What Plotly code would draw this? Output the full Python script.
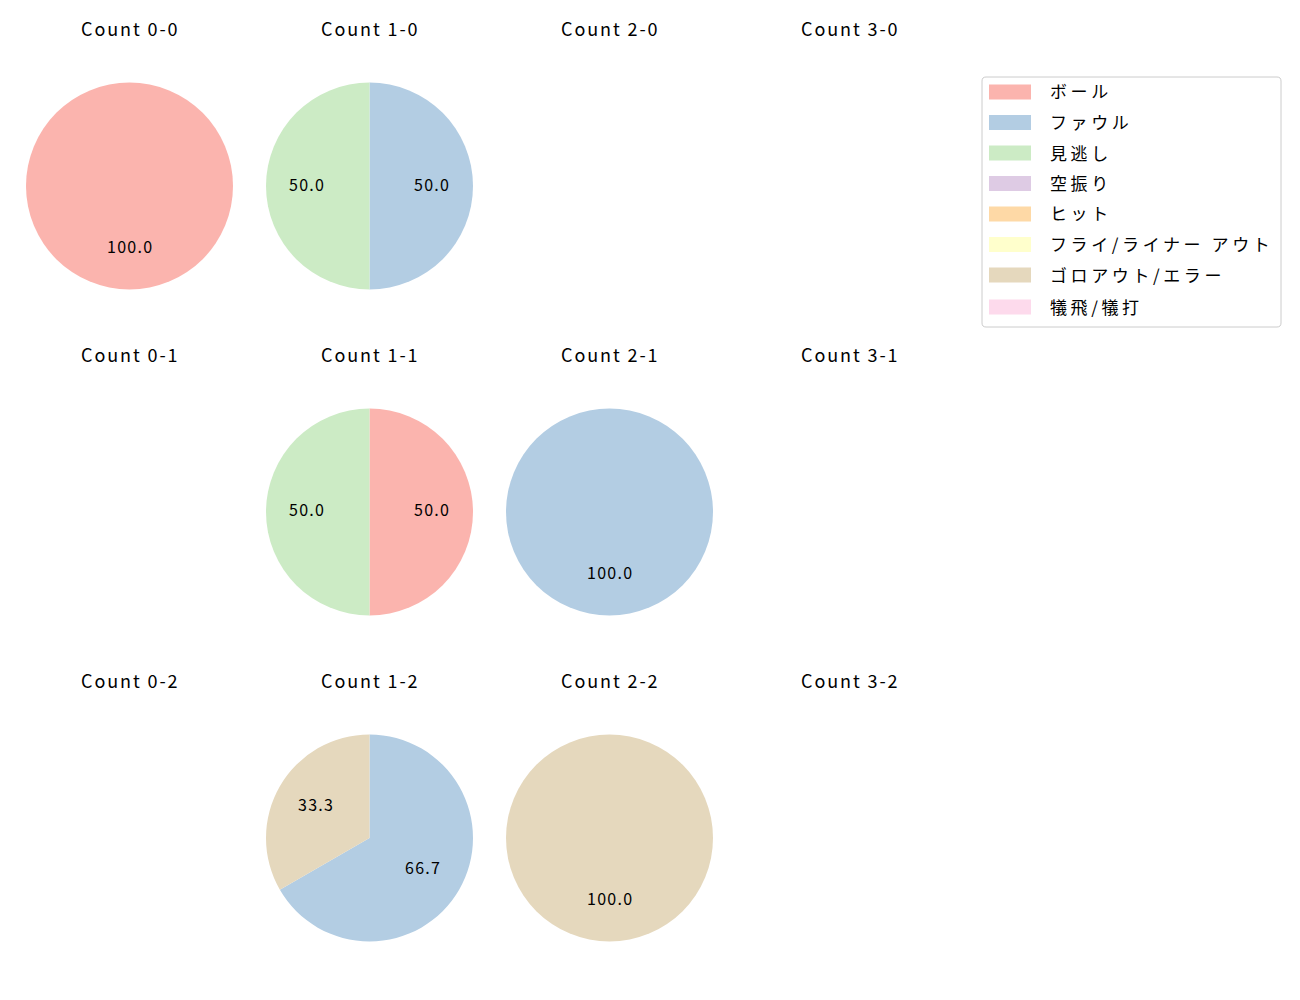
import math
import plotly.graph_objects as go

categories = ["ボール", "ファウル", "見逃し", "空振り", "ヒット", "フライ/ライナー アウト", "ゴロアウト/エラー", "犠飛/犠打"]
colors = ["#fbb4ae", "#b3cde3", "#ccebc5", "#decbe4", "#fed9a6", "#ffffcc", "#e5d8bd", "#fddaec"]

# counts per (balls, strikes) -> values in category order
count_0_0 = [1, 0, 0, 0, 0, 0, 0, 0]
count_1_0 = [0, 1, 1, 0, 0, 0, 0, 0]
count_2_0 = [0, 0, 0, 0, 0, 0, 0, 0]
count_3_0 = [0, 0, 0, 0, 0, 0, 0, 0]
count_0_1 = [0, 0, 0, 0, 0, 0, 0, 0]
count_1_1 = [1, 0, 1, 0, 0, 0, 0, 0]
count_2_1 = [0, 1, 0, 0, 0, 0, 0, 0]
count_3_1 = [0, 0, 0, 0, 0, 0, 0, 0]
count_0_2 = [0, 0, 0, 0, 0, 0, 0, 0]
count_1_2 = [0, 2, 0, 0, 0, 0, 1, 0]
count_2_2 = [0, 0, 0, 0, 0, 0, 1, 0]
count_3_2 = [0, 0, 0, 0, 0, 0, 0, 0]

grid = [
    [count_0_0, count_1_0, count_2_0, count_3_0],
    [count_0_1, count_1_1, count_2_1, count_3_1],
    [count_0_2, count_1_2, count_2_2, count_3_2],
]

W, H = 1300, 1000
FONT = "Noto Sans CJK JP, Noto Sans, sans-serif"
col_cx = [129.5, 369.5, 609.5, 849.5]
row_cy = [186, 512, 838]
R = 103.5
title_dy = 158
label_dy = -2.5


def spaced(text, px):
    return f'<span style="letter-spacing:{px}px">{text}</span>'


fig = go.Figure()
annotations = []
shapes = []

for ri, row in enumerate(grid):
    for ci, vals in enumerate(row):
        cx, cy = col_cx[ci], row_cy[ri]
        annotations.append(dict(
            x=cx / W, y=1 - (cy - title_dy) / H, xref="paper", yref="paper",
            text=spaced(f"Count {ci}-{ri}", 1.9), showarrow=False,
            font=dict(family=FONT, size=18, color="#000"),
            xanchor="center", yanchor="middle"))
        total = sum(vals)
        if total == 0:
            continue
        labs = [c for c, v in zip(categories, vals) if v > 0]
        cols = [colors[i] for i, v in enumerate(vals) if v > 0]
        vs = [v for v in vals if v > 0]
        fig.add_trace(go.Pie(
            labels=labs, values=vs, marker=dict(colors=cols),
            sort=False, direction="clockwise", rotation=0,
            textinfo="none", hoverinfo="label+percent", showlegend=False,
            domain=dict(x=[(cx - R) / W, (cx + R) / W], y=[1 - (cy + R) / H, 1 - (cy - R) / H]),
        ))
        acc = 0
        for v in vs:
            mid = (acc + v / 2) / total * 2 * math.pi
            acc += v
            px = cx + 0.6 * R * math.sin(mid)
            py = cy - 0.6 * R * math.cos(mid) + label_dy
            annotations.append(dict(
                x=px / W, y=1 - py / H, xref="paper", yref="paper",
                text=spaced(f"{v / total * 100:.1f}", 1.3), showarrow=False,
                font=dict(family=FONT, size=16, color="#000"),
                xanchor="center", yanchor="middle"))

# legend
lx0, ly0, lx1, ly1 = 982, 77, 1281, 327
rr = 4
path = (f"M {lx0+rr} {ly0} L {lx1-rr} {ly0} Q {lx1} {ly0} {lx1} {ly0+rr} "
        f"L {lx1} {ly1-rr} Q {lx1} {ly1} {lx1-rr} {ly1} L {lx0+rr} {ly1} "
        f"Q {lx0} {ly1} {lx0} {ly1-rr} L {lx0} {ly0+rr} Q {lx0} {ly0} {lx0+rr} {ly0} Z")


def to_paper_path(p):
    res = []
    is_x = True
    for t in p.split():
        try:
            f = float(t)
            res.append(f"{f / W:.6f}" if is_x else f"{1 - f / H:.6f}")
            is_x = not is_x
        except ValueError:
            res.append(t)
            is_x = True
    return " ".join(res)


shapes.append(dict(type="path", xref="paper", yref="paper", path=to_paper_path(path),
                   line=dict(color="#cccccc", width=1), fillcolor="rgba(255,255,255,0.8)"))
ys = [92, 122.5, 153, 183.5, 214, 244.5, 275, 307]
for i, (cat, col) in enumerate(zip(categories, colors)):
    y = ys[i]
    shapes.append(dict(type="rect", xref="paper", yref="paper",
                       x0=989 / W, x1=1031 / W, y0=1 - (y - 7.5) / H, y1=1 - (y + 7.5) / H,
                       line=dict(width=0), fillcolor=col))
    annotations.append(dict(x=1048 / W, y=1 - (y - 1) / H, xref="paper", yref="paper",
                            text=spaced(cat, 3.6), showarrow=False, xanchor="left", yanchor="middle",
                            font=dict(family=FONT, size=17, color="#000")))

fig.update_layout(
    width=W, height=H, margin=dict(l=0, r=0, t=0, b=0),
    paper_bgcolor="white", plot_bgcolor="white",
    annotations=annotations, shapes=shapes, showlegend=False,
)
fig.write_html("out.html")
